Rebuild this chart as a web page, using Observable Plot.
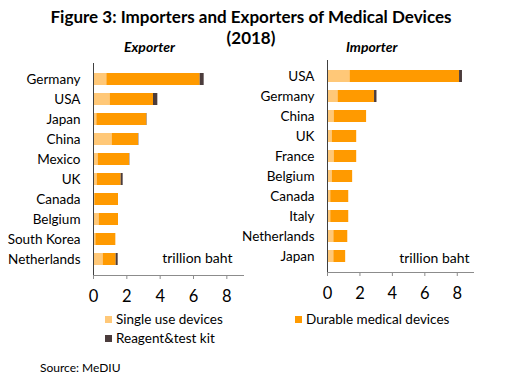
<!DOCTYPE html>
<html>
<head>
<meta charset="utf-8">
<script src="https://cdn.jsdelivr.net/npm/d3@7"></script>
<script src="https://cdn.jsdelivr.net/npm/@observablehq/plot@0.6"></script>
<style>
  html, body { margin: 0; padding: 0; background: #fff; }
  body { width: 520px; height: 384px; position: relative; overflow: hidden; font-family: Lato, "Open Sans", sans-serif; color: #000; }
  .abs { position: absolute; white-space: nowrap; }
  .title { font-weight: bold; font-size: 17px; left: 0; width: 502px; text-align: center; }
  .sub { font-weight: bold; font-style: italic; font-size: 14px; }
  .sw { display: inline-block; width: 7px; height: 7px; margin-right: 4px; vertical-align: middle; position: relative; top: -1px; }
  .leg { font-size: 13.5px; }
</style>
</head>
<body>
<div class="abs title" style="top:6px;">Figure 3: Importers and Exporters of Medical Devices</div>
<div class="abs title" style="top:27px;">(2018)</div>
<div class="abs sub" style="top:38px; left:124px;">Exporter</div>
<div class="abs sub" style="top:38px; left:346px;">Importer</div>
<div id="left" class="abs" style="left:0; top:0;"></div>
<div id="right" class="abs" style="left:260px; top:0;"></div>
<div id="legend"></div>
<div class="abs" style="left:40px; top:360px; font-size:12px;">Source: MeDIU</div>
<script>
const types = ["Single use devices", "Durable medical devices", "Reagent&test kit"];
const colors = ["#FFC878", "#FF9A00", "#4B3C3C"];

const exportCountries = ["Germany", "USA", "Japan", "China", "Mexico", "UK", "Canada", "Belgium", "South Korea", "Netherlands"];
const exportSingle  = [0.80, 1.00, 0.20, 1.12, 0.28, 0.22, 0.08, 0.34, 0.14, 0.58];
const exportDurable = [5.60, 2.60, 3.00, 1.58, 1.88, 1.44, 1.42, 1.16, 1.20, 0.78];
const exportReagent = [0.24, 0.26, 0.02, 0.02, 0.02, 0.12, 0.00, 0.00, 0.00, 0.12];

const importCountries = ["USA", "Germany", "China", "UK", "France", "Belgium", "Canada", "Italy", "Netherlands", "Japan"];
const importSingle  = [1.39, 0.65, 0.41, 0.29, 0.41, 0.29, 0.20, 0.20, 0.39, 0.39];
const importDurable = [6.75, 2.25, 2.00, 1.51, 1.39, 1.26, 1.11, 1.11, 0.86, 0.73];
const importReagent = [0.18, 0.15, 0.00, 0.00, 0.00, 0.00, 0.00, 0.00, 0.00, 0.00];

const xTicks = [0, 2, 4, 6, 8];

function toLong(countries, s, d, r) {
  const out = [];
  countries.forEach((c, i) => {
    out.push({country: c, type: types[0], value: s[i]});
    out.push({country: c, type: types[1], value: d[i]});
    out.push({country: c, type: types[2], value: r[i]});
  });
  return out;
}

function chart(data, countries, opts) {
  return Plot.plot({
    width: 260,
    height: opts.height,
    marginLeft: opts.ml,
    marginRight: opts.mr,
    marginTop: opts.mt,
    marginBottom: opts.height - opts.bottom,
    style: {fontFamily: "Lato, 'Open Sans', sans-serif", background: "transparent", overflow: "visible"},
    x: {domain: [0, 9]},
    y: {domain: countries, padding: 0.42},
    color: {domain: types, range: colors},
    marks: [
      Plot.barX(data, Plot.stackX({y: "country", x: "value", fill: "type", order: null})),
      Plot.frame({anchor: "bottom", stroke: "#8c8c8c"}),
      Plot.frame({anchor: "left", stroke: "#404040"}),
      Plot.axisX({ticks: xTicks, tickSize: 4, tickPadding: 11, fontSize: 16.5, stroke: "#8c8c8c", tickFormat: d3.format("d"), label: null, color: "#000"}),
      Plot.axisY({tickSize: 0, tickPadding: 13, fontSize: 13.5, label: null, color: "#000"}),
      Plot.text(["trillion baht"], {frameAnchor: "bottom-right", dx: opts.tdx, dy: opts.tdy, fontSize: 14, textAnchor: "end", fill: "#000"})
    ]
  });
}

const left = chart(toLong(exportCountries, exportSingle, exportDurable, exportReagent), exportCountries,
  {height: 310, ml: 93, mr: 17, mt: 63, bottom: 275, tdx: -11, tdy: -13});
const right = chart(toLong(importCountries, importSingle, importDurable, importReagent), importCountries,
  {height: 310, ml: 67, mr: 47, mt: 60, bottom: 272, tdx: -4, tdy: -10});
document.getElementById("left").appendChild(left);
document.getElementById("right").appendChild(right);

const legendItems = [
  {label: types[0], color: colors[0], left: 105, top: 311},
  {label: types[1], color: colors[1], left: 295, top: 311},
  {label: types[2], color: colors[2], left: 105, top: 330}
];
const lg = document.getElementById("legend");
legendItems.forEach(it => {
  const d = document.createElement("div");
  d.className = "abs leg";
  d.style.left = it.left + "px";
  d.style.top = it.top + "px";
  d.innerHTML = `<span class="sw" style="background:${it.color}"></span>${it.label}`;
  lg.appendChild(d);
});
</script>
</body>
</html>
